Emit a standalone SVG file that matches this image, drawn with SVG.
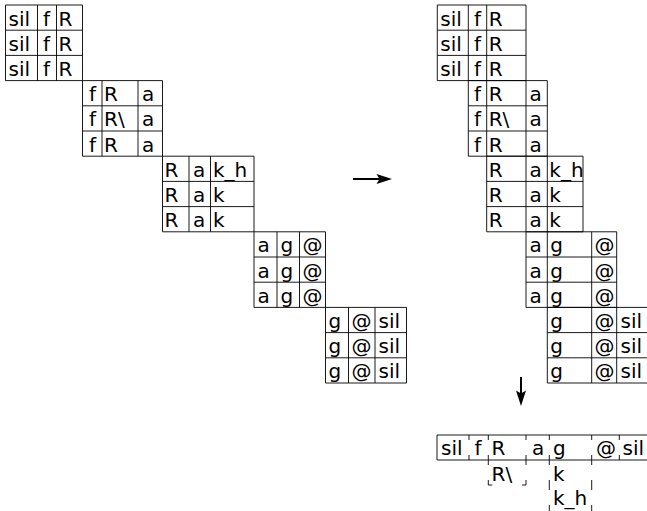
<svg xmlns="http://www.w3.org/2000/svg" width="647" height="511" viewBox="0 0 647 511">
<style>
.t{font-family:"DejaVu Sans","Open Sans",sans-serif;font-size:20px;fill:#000}
.g{stroke:#000;stroke-width:0.9;fill:none}
.d{stroke:#000;stroke-width:0.9;fill:none}
.a{stroke:#000;stroke-width:2;fill:none}
</style>
<rect width="647" height="511" fill="#fff"/>
<!-- LEFT STAIRCASE -->
<g id="L1">
<path class="g" d="M5.5 5H82.5V80.6H5.5ZM5.5 30.2H82.5M5.5 55.4H82.5M37.5 5V80.6M56.5 5V80.6"/>
<text class="t" x="8.5" y="25.5">sil</text><text class="t" x="43" y="25.5">f</text><text class="t" x="58.5" y="25.5">R</text>
<text class="t" x="8.5" y="50.7">sil</text><text class="t" x="43" y="50.7">f</text><text class="t" x="58.5" y="50.7">R</text>
<text class="t" x="8.5" y="75.9">sil</text><text class="t" x="43" y="75.9">f</text><text class="t" x="58.5" y="75.9">R</text>
</g>
<g id="L2">
<path class="g" d="M82.5 80.6H162.5V156.2H82.5ZM82.5 105.8H162.5M82.5 131H162.5M102 80.6V156.2M138 80.6V156.2"/>
<text class="t" x="89" y="101.1">f</text><text class="t" x="104" y="101.1">R</text><text class="t" x="142" y="101.1">a</text>
<text class="t" x="89" y="126.3">f</text><text class="t" x="104" y="126.3">R\</text><text class="t" x="142" y="126.3">a</text>
<text class="t" x="89" y="151.5">f</text><text class="t" x="104" y="151.5">R</text><text class="t" x="142" y="151.5">a</text>
</g>
<g id="L3">
<path class="g" d="M162.5 156.2H254V231.8H162.5ZM162.5 181.4H254M162.5 206.6H254M189 156.2V231.8M210.5 156.2V231.8"/>
<text class="t" x="164.5" y="176.7">R</text><text class="t" x="193" y="176.7">a</text><text class="t" x="213" y="176.7">k_h</text>
<text class="t" x="164.5" y="201.9">R</text><text class="t" x="193" y="201.9">a</text><text class="t" x="213" y="201.9">k</text>
<text class="t" x="164.5" y="227.1">R</text><text class="t" x="193" y="227.1">a</text><text class="t" x="213" y="227.1">k</text>
</g>
<g id="L4">
<path class="g" d="M254 231.8H325.5V307.4H254ZM254 257H325.5M254 282.2H325.5M277 231.8V307.4M299.5 231.8V307.4"/>
<text class="t" x="257.5" y="252.3">a</text><text class="t" x="280.5" y="252.3">g</text><text class="t" x="302.5" y="252.3">@</text>
<text class="t" x="257.5" y="277.5">a</text><text class="t" x="280.5" y="277.5">g</text><text class="t" x="302.5" y="277.5">@</text>
<text class="t" x="257.5" y="302.7">a</text><text class="t" x="280.5" y="302.7">g</text><text class="t" x="302.5" y="302.7">@</text>
</g>
<g id="L5">
<path class="g" d="M325.5 307.4H406.5V383H325.5ZM325.5 332.6H406.5M325.5 357.8H406.5M348.5 307.4V383M375 307.4V383"/>
<text class="t" x="328.5" y="327.9">g</text><text class="t" x="351.5" y="327.9">@</text><text class="t" x="378.5" y="327.9">sil</text>
<text class="t" x="328.5" y="353.1">g</text><text class="t" x="351.5" y="353.1">@</text><text class="t" x="378.5" y="353.1">sil</text>
<text class="t" x="328.5" y="378.3">g</text><text class="t" x="351.5" y="378.3">@</text><text class="t" x="378.5" y="378.3">sil</text>
</g>
<!-- RIGHT STAIRCASE -->
<g id="R1">
<path class="g" d="M437.3 5H526V80.6H437.3ZM437.3 30.2H526M437.3 55.4H526M468.3 5V80.6M486.7 5V80.6"/>
<text class="t" x="440.3" y="25.5">sil</text><text class="t" x="474" y="25.5">f</text><text class="t" x="488.7" y="25.5">R</text>
<text class="t" x="440.3" y="50.7">sil</text><text class="t" x="474" y="50.7">f</text><text class="t" x="488.7" y="50.7">R</text>
<text class="t" x="440.3" y="75.9">sil</text><text class="t" x="474" y="75.9">f</text><text class="t" x="488.7" y="75.9">R</text>
</g>
<g id="R2">
<path class="g" d="M468.3 80.6H547.3V156.2H468.3ZM468.3 105.8H547.3M468.3 131H547.3M486.7 80.6V156.2M526 80.6V156.2"/>
<text class="t" x="474" y="101.1">f</text><text class="t" x="488.7" y="101.1">R</text><text class="t" x="529.5" y="101.1">a</text>
<text class="t" x="474" y="126.3">f</text><text class="t" x="488.7" y="126.3">R\</text><text class="t" x="529.5" y="126.3">a</text>
<text class="t" x="474" y="151.5">f</text><text class="t" x="488.7" y="151.5">R</text><text class="t" x="529.5" y="151.5">a</text>
</g>
<g id="R3">
<path class="g" d="M486.7 156.2H583V231.8H486.7ZM486.7 181.4H583M486.7 206.6H583M526 156.2V231.8M547.3 156.2V231.8"/>
<text class="t" x="488.7" y="176.7">R</text><text class="t" x="529.5" y="176.7">a</text><text class="t" x="549.3" y="176.7">k_h</text>
<text class="t" x="488.7" y="201.9">R</text><text class="t" x="529.5" y="201.9">a</text><text class="t" x="549.3" y="201.9">k</text>
<text class="t" x="488.7" y="227.1">R</text><text class="t" x="529.5" y="227.1">a</text><text class="t" x="549.3" y="227.1">k</text>
</g>
<g id="R4">
<path class="g" d="M526 231.8H616.7V307.4H526ZM526 257H616.7M526 282.2H616.7M547.3 231.8V307.4M591.7 231.8V307.4"/>
<text class="t" x="529.5" y="252.3">a</text><text class="t" x="550.3" y="252.3">g</text><text class="t" x="594.5" y="252.3">@</text>
<text class="t" x="529.5" y="277.5">a</text><text class="t" x="550.3" y="277.5">g</text><text class="t" x="594.5" y="277.5">@</text>
<text class="t" x="529.5" y="302.7">a</text><text class="t" x="550.3" y="302.7">g</text><text class="t" x="594.5" y="302.7">@</text>
</g>
<g id="R5">
<path class="g" d="M547.3 307.4H648.5V383H547.3ZM547.3 332.6H648.5M547.3 357.8H648.5M591.7 307.4V383M616.7 307.4V383"/>
<text class="t" x="550.3" y="327.9">g</text><text class="t" x="594.5" y="327.9">@</text><text class="t" x="620.5" y="327.9">sil</text>
<text class="t" x="550.3" y="353.1">g</text><text class="t" x="594.5" y="353.1">@</text><text class="t" x="620.5" y="353.1">sil</text>
<text class="t" x="550.3" y="378.3">g</text><text class="t" x="594.5" y="378.3">@</text><text class="t" x="620.5" y="378.3">sil</text>
</g>
<!-- BOTTOM LATTICE -->
<g id="lattice">
<path class="g" d="M437 435H648.5M437 460H648.5M437 435V460"/>
<path class="d" d="M469 435V440M469 455V460M488.3 435V440M488.3 455V465M526 435V440M526 455V465M549.3 435V440M549.3 455V465M591.7 435V440M591.7 455V465M619.3 435V440M619.3 455V460
M488.3 480V485H492.3M526 480V485H522
M549.3 480V490M549.3 505V511M591.7 480V490M591.7 505V511"/>
<text class="t" x="441" y="455.3">sil</text><text class="t" x="474.5" y="455.3">f</text><text class="t" x="491.5" y="455.3">R</text><text class="t" x="532" y="455.3">a</text><text class="t" x="553" y="455.3">g</text><text class="t" x="596" y="455.3">@</text><text class="t" x="622.5" y="455.3">sil</text>
<text class="t" x="491.5" y="480.8">R\</text><text class="t" x="553" y="480.8">k</text>
<text class="t" x="553" y="505.3">k_h</text>
</g>
<!-- CONNECTORS -->
<g id="connectors">
<path class="a" d="M353 179H380"/>
<path d="M392 179L376.5 174L379.5 179L376.5 184Z" fill="#000"/>
<path class="a" d="M521 377V394"/>
<path d="M521 406L516 390.5L521 393.5L526 390.5Z" fill="#000"/>
</g>
</svg>
